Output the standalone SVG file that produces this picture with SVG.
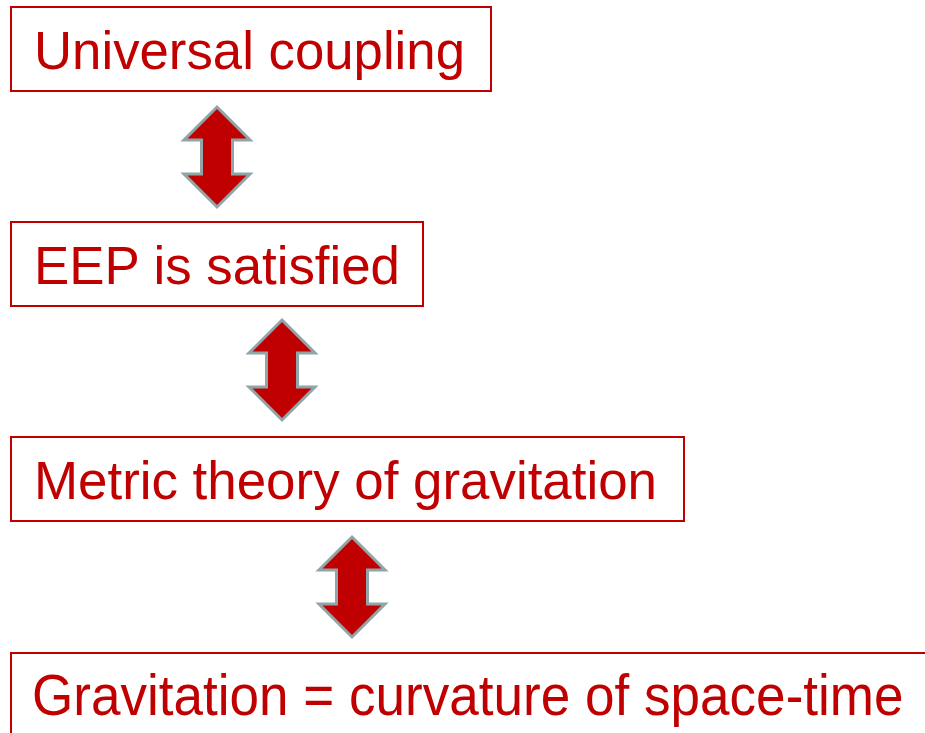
<svg xmlns="http://www.w3.org/2000/svg" width="925" height="733" viewBox="0 0 925 733">
<defs>
<style>
.box{fill:#fff;stroke:#C00000;stroke-width:2}
.t{font-family:"Liberation Sans",Arial,sans-serif;font-size:54px;fill:#C00000}
.arr{fill:#C00000;stroke:#8FA5A8;stroke-width:3;stroke-linejoin:miter}
</style>
<path id="dbl" d="M0,0 L33,33 L15.5,33 L15.5,67 L33,67 L0,100 L-33,67 L-15.5,67 L-15.5,33 L-33,33 Z"/>
</defs>
<rect width="925" height="733" fill="#fff"/>
<g id="n1"><rect class="box" x="11" y="7" width="480" height="84"/><text class="t" x="34" y="69" textLength="431" lengthAdjust="spacingAndGlyphs">Universal coupling</text></g>
<g id="n2"><rect class="box" x="11" y="222" width="412" height="84"/><text class="t" x="34" y="284" textLength="366" lengthAdjust="spacingAndGlyphs">EEP is satisfied</text></g>
<g id="n3"><rect class="box" x="11" y="437" width="673" height="84"/><text class="t" x="34" y="499" textLength="623" lengthAdjust="spacingAndGlyphs">Metric theory of gravitation</text></g>
<g id="n4"><path class="box" d="M925,653 H11 V733"/><text class="t" transform="translate(32,715) scale(0.9155,1)" x="0" y="0" style="font-size:58px" textLength="952" lengthAdjust="spacingAndGlyphs">Gravitation = curvature of space-time</text></g>
<g id="connectors">
<use href="#dbl" class="arr" x="217" y="107"/>
<use href="#dbl" class="arr" x="282" y="320"/>
<use href="#dbl" class="arr" x="352" y="537"/>
</g>
</svg>
